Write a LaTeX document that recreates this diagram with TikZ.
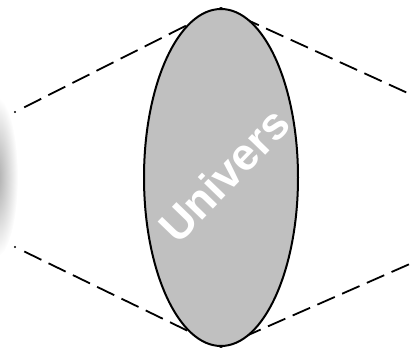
\documentclass[tikz,border=0pt]{standalone}
\usepackage{fontspec}
\setmainfont{Liberation Sans}
\usetikzlibrary{shapes.geometric,backgrounds}
\definecolor{UVGray}{HTML}{C0C0C0}
\definecolor{UVShade}{HTML}{A8A8A8}
\tikzset{
  univers/.style={ellipse,draw=black,fill=UVGray,line width=2pt,inner sep=0pt,
    minimum width=154pt,minimum height=337pt},
  ray/.style={black,line width=1.8pt,dash pattern=on 19pt off 8pt},
  eyedot/.style={circle,fill=black,inner sep=0pt,minimum size=2.2pt}
}
\begin{document}
\begin{tikzpicture}[x=1pt,y=1pt]
\path[use as bounding box] (0,0) rectangle (418,349);
% eye on the left edge
\begin{scope}
\clip (0,0) rectangle (418,349);
\shade[inner color=UVShade,outer color=white] (-4,172) ellipse (22 and 80);
\end{scope}
\node[eyedot] (eyeup) at (15,237) {};
\node[eyedot] (eyelow) at (15,102) {};
\node[univers] (ell) at (221,171.5) {};
\node[white,rotate=46,inner sep=0pt,font=\bfseries\fontsize{45}{45}\selectfont] (lbl) at (224,174) {Univers};
\coordinate (farup) at (412,254);
\coordinate (farlow) at (412,86);
\begin{scope}[on background layer]
\draw[ray,shorten <=9pt] (eyeup) -- (ell.north) -- (farup);
\draw[ray,shorten <=9pt] (eyelow) -- (ell.south) -- (farlow);
\end{scope}
\end{tikzpicture}
\end{document}
